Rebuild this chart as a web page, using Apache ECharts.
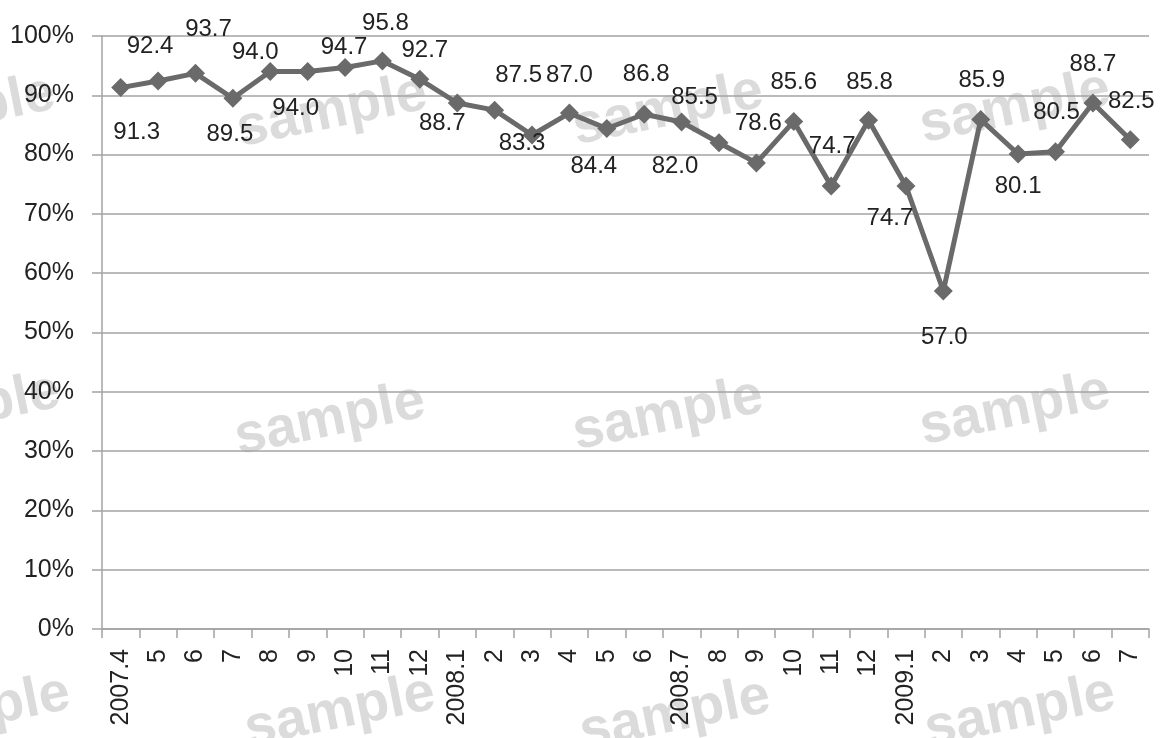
<!DOCTYPE html>
<html>
<head>
<meta charset="utf-8">
<script src="https://cdn.jsdelivr.net/npm/echarts@6/dist/echarts.min.js"></script>
<style>
html,body{margin:0;padding:0;background:#fff;}
#chart{width:1161px;height:738px;}
</style>
</head>
<body>
<div id="chart"></div>
<script>
// ---- data ----
const categories = ['2007.4','5','6','7','8','9','10','11','12','2008.1','2','3','4','5','6','2008.7','8','9','10','11','12','2009.1','2','3','4','5','6','7'];
const values = [91.3,92.4,93.7,89.5,94.0,94.0,94.7,95.8,92.7,88.7,87.5,83.3,87.0,84.4,86.8,85.5,82.0,78.6,85.6,74.7,85.8,74.7,57.0,85.9,80.1,80.5,88.7,82.5];
const yMin = 0, yMax = 100, yStep = 10;

// ---- label placement (layout only) ----
const labelOffsets = [
  [16,45],[-8,-35],[13,-44],[-3,36],[-15,-19],[-12,37],[-1,-20],[3,-38],[5,-29],[-15,20],
  [24,-35],[-10,8],[0,-38],[-13,38],[2,-40],[13,-25],[-44,24],[2,-40],[0,-39],[1,-40],
  [1,-38],[-16,32],[1,46],[1,-39],[0,32],[1,-39],[0,-39],[1,-38]
];
const watermarkSpots = [
  [-40,112],[332,112],[668,110],[1015,108],
  [-35,410],[330,420],[668,415],[1015,410],
  [-25,712],[340,712],[675,715],[1020,712]
];

const FONT = "'Liberation Sans', Arial, sans-serif";
const TXT = '#222';
const GRID = '#a3a3a3';
const LINE = '#6a6a6a';

const chart = echarts.init(document.getElementById('chart'));

const seriesData = values.map((v, i) => ({
  value: v,
  label: { offset: labelOffsets[i] }
}));

const watermarks = watermarkSpots.map(p => ({
  type: 'text',
  x: p[0], y: p[1],
  rotation: 0.2,
  z: -10,
  silent: true,
  style: {
    text: 'sample',
    font: "bold 56px 'Liberation Sans', Arial, sans-serif",
    fill: 'rgba(175,175,175,0.45)',
    align: 'center',
    verticalAlign: 'middle'
  }
}));

chart.setOption({
  animation: false,
  backgroundColor: '#fff',
  textStyle: { fontFamily: FONT },
  graphic: watermarks,
  grid: { left: 102, right: 12, top: 36, bottom: 109, containLabel: false },
  xAxis: {
    type: 'category',
    data: categories,
    boundaryGap: true,
    axisLine: { show: true, lineStyle: { color: GRID, width: 1.5 } },
    axisTick: { show: true, length: 9, interval: 0, lineStyle: { color: GRID, width: 1.5 } },
    axisLabel: { interval: 0, rotate: 90, fontSize: 25, color: TXT, margin: 20, fontFamily: FONT },
    splitLine: { show: false }
  },
  yAxis: {
    type: 'value',
    min: yMin, max: yMax, interval: yStep,
    axisLine: { show: true, lineStyle: { color: GRID, width: 1.5 } },
    axisTick: { show: true, length: 10, lineStyle: { color: GRID, width: 1.5 } },
    axisLabel: { formatter: '{value}%', fontSize: 25, color: TXT, margin: 28, fontFamily: FONT },
    splitLine: { show: true, lineStyle: { color: GRID, width: 1.5 } }
  },
  series: [{
    type: 'line',
    data: seriesData,
    symbol: 'diamond',
    symbolSize: 19,
    showAllSymbol: true,
    z: 5,
    lineStyle: { color: LINE, width: 5 },
    itemStyle: { color: LINE },
    label: {
      show: true,
      position: 'inside',
      align: 'center',
      verticalAlign: 'middle',
      fontSize: 24,
      color: TXT,
      fontFamily: FONT,
      formatter: p => p.value.toFixed(1)
    }
  }]
});
</script>
</body>
</html>
